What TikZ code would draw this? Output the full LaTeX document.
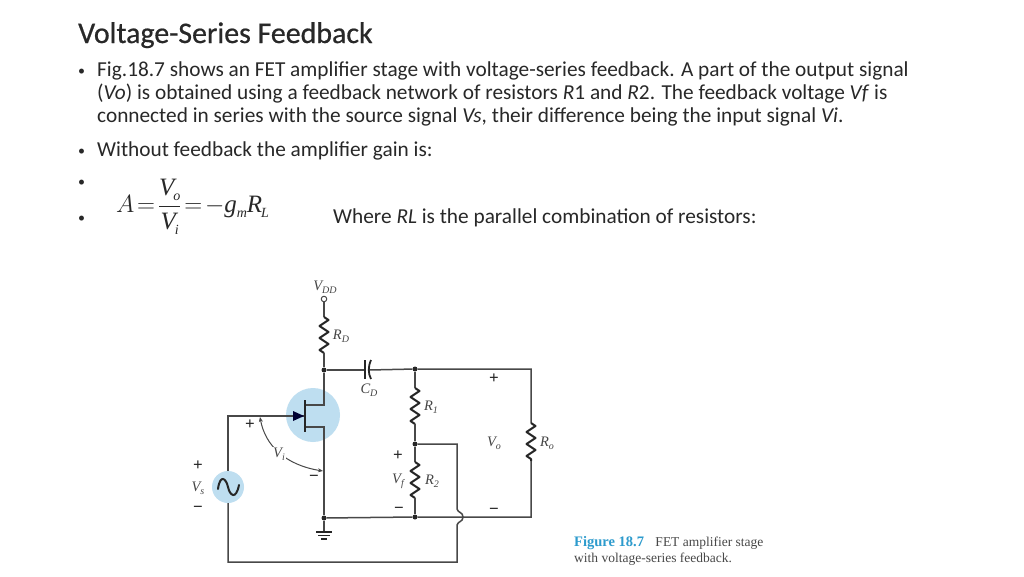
\documentclass[tikz,border=0pt]{standalone}
\usepackage{fontspec}
\usetikzlibrary{decorations.pathmorphing,arrows.meta}
\setmainfont{Carlito}
\newfontfamily\titlef[FakeBold=0.6]{Carlito}
\newfontfamily\timesf{Liberation Serif}
\definecolor{ink}{RGB}{40,40,40}
\definecolor{wire}{RGB}{72,72,72}
\definecolor{halo}{RGB}{190,222,240}
\definecolor{figblue}{RGB}{45,155,205}
\definecolor{labelc}{RGB}{70,70,70}
\newcommand{\lowsub}[1]{\raisebox{-0.2em}{\fontsize{14}{14}\selectfont #1}}
\newcommand{\csub}[1]{\raisebox{-0.22em}{\fontsize{10}{10}\selectfont #1}}
\newcommand{\eqfont}{\timesf\itshape\fontsize{25}{28}\selectfont}
\tikzset{
  body/.style={anchor=base west,inner sep=0pt,font=\fontsize{21.3}{24}\selectfont,text=ink},
  bulletmark/.style={anchor=base west,inner sep=0pt,font=\fontsize{14}{16}\selectfont,text=ink},
  wireline/.style={draw=wire,line width=1.5pt},
  resistorline/.style={draw=black!85,line width=2pt,line join=round,decorate,decoration={zigzag,amplitude=4.5pt,segment length=12pt}},
  dotnode/.style={circle,fill=black!85,inner sep=0pt,minimum size=5pt},
  clabel/.style={inner sep=0pt,text=labelc,font=\timesf\itshape\fontsize{14.5}{14.5}\selectfont},
  csign/.style={inner sep=0pt,text=black!85,font=\timesf\bfseries\fontsize{17}{17}\selectfont},
  haloc/.style={circle,fill=halo,draw=none,inner sep=0pt},
}
\begin{document}
\begin{tikzpicture}[x=1pt,y=-1pt]
\useasboundingbox[fill=white] (0,0) rectangle (1024,576);
% text
\node[anchor=base west,inner sep=0pt,text=ink,font=\titlef\fontsize{29.9}{32}\selectfont] (title) at (78,43) {Voltage-Series Feedback};
\node[bulletmark] (b1) at (78,75) {•};
\node[body] (l1) at (97,76) {Fig.18.7 shows an FET amplifier stage with voltage-series feedback. A part of the output signal};
\node[body] (l2) at (97,99) {(\textit{Vo}) is obtained using a feedback network of resistors \textit{R}1 and \textit{R}2. The feedback voltage \textit{Vf} is};
\node[body] (l3) at (97,122) {connected in series with the source signal \textit{Vs}, their difference being the input signal \textit{Vi}.};
\node[bulletmark] (b2) at (78,155) {•};
\node[body] (l4) at (97,156) {Without feedback the amplifier gain is:};
\node[bulletmark] (b3) at (78,186) {•};
\node[bulletmark] (b4) at (78,222) {•};
\node[body] (l5) at (333,223) {Where \textit{RL} is the parallel combination of resistors:};
\node[anchor=west,inner sep=0pt,text=ink,font=\eqfont] (eq) at (116,207)
 {$\displaystyle A\!=\!\frac{\hbox{\eqfont V\kern-1pt\lowsub{o}}}{\hbox{\eqfont V\kern-1pt\lowsub{i}}}\!=\!-\hbox{\eqfont g\lowsub{m}R\kern-1pt\lowsub{L}}$};
% halos
\node[haloc,minimum size=54pt] (fet) at (313,415) {};
\node[haloc,minimum size=32pt] (src) at (228,487) {};
% junctions and terminals
\node[circle,draw=wire,line width=1pt,fill=white,inner sep=0pt,minimum size=5.5pt] (vdd) at (324,299) {};
\coordinate (rdt) at (324,317);
\coordinate (rdb) at (324,353);
\node[dotnode] (nd) at (324,370) {};
\node[dotnode] (n1) at (415,369) {};
\node[dotnode] (n2) at (415,444) {};
\node[dotnode] (n3) at (415,517) {};
\node[dotnode] (ns) at (324,518) {};
\coordinate (capl) at (365,370);
\coordinate (capr) at (369,370);
\coordinate (tr) at (531,369);
\coordinate (br) at (531,517);
\coordinate (rot) at (531,423);
\coordinate (rob) at (531,461);
\coordinate (r1t) at (415,388);
\coordinate (r1b) at (415,424);
\coordinate (r2t) at (415,462);
\coordinate (r2b) at (415,498);
\coordinate (fb1) at (457,444);
\coordinate (fb2) at (457,509);
\coordinate (fb3) at (457,525);
\coordinate (fb4) at (457,562);
\coordinate (fb5) at (228,562);
\coordinate (gnd) at (324,531);
\coordinate (dt) at (324,405);
\coordinate (dg) at (305,405);
\coordinate (st) at (324,427);
\coordinate (sg) at (305,427);
\coordinate (gt) at (305,416);
\coordinate (gl) at (228,416);
% wires
\draw[wireline] (vdd) -- (rdt);
\draw[resistorline] (rdt) -- (rdb);
\draw[wireline] (rdb) -- (nd) -- (dt) -- (dg);
\draw[wireline] (nd) -- (capl);
\draw[wireline] (capr) -- (n1) -- (tr) -- (rot);
\draw[resistorline] (rot) -- (rob);
\draw[wireline] (rob) -- (br) -- (n3) -- (ns);
\draw[wireline] (n1) -- (r1t);
\draw[resistorline] (r1t) -- (r1b);
\draw[wireline] (r1b) -- (n2) -- (r2t);
\draw[resistorline] (r2t) -- (r2b);
\draw[wireline] (r2b) -- (n3);
\draw[wireline] (n2) -- (fb1) -- (fb2) .. controls (458,513) and (463,512) .. (463,517) .. controls (463,522) and (458,521) .. (fb3) -- (fb4) -- (fb5) -- (src);
\draw[wireline] (src) -- (gl) -- (gt);
\draw[wireline] (sg) -- (st) -- (ns) -- (gnd);
% capacitor
\draw[draw=black!85,line width=1.8pt] (365,360) -- (365,379);
\draw[draw=black!85,line width=1.8pt] (371,360) .. controls (368,367) and (368,373) .. (371,379);
% FET
\draw[draw=black!85,line width=2.8pt] (305,400) -- (305,432);
\fill[fill=black!80!blue] (304,416) -- (293,411) -- (293,421) -- cycle;
% source sine
\draw[draw=black!85,line width=2pt,line cap=round] (218,489) .. controls (220,474) and (226,478) .. (228,487) .. controls (230,496) and (236,500) .. (239,485);
% ground
\draw[draw=black!85,line width=1.8pt] (316,532) -- (332,532);
\draw[draw=black!85,line width=1.8pt] (318,535.5) -- (330,535.5);
\draw[draw=black!85,line width=1.8pt] (321,539) -- (327,539);
% Vi arrow
\draw[draw=wire,line width=1pt,{Stealth[length=5pt,width=4pt]}-{Stealth[length=5pt,width=4pt]}] (260,417) .. controls (265,445) and (285,465) .. (323,471);
% labels
\node[clabel,fill=white,inner sep=1pt] (lvi) at (279,454) {V\csub{i}};
\node[clabel] (lvdd) at (325,287) {V\csub{DD}};
\node[clabel] (lrd) at (341,336) {R\csub{D}};
\node[clabel] (lcd) at (369,390) {C\csub{D}};
\node[clabel] (lr1) at (431,407) {R\csub{1}};
\node[clabel] (lr2) at (432,481) {R\csub{2}};
\node[clabel] (lro) at (547,443) {R\csub{o}};
\node[clabel] (lvo) at (494,443) {V\csub{o}};
\node[clabel] (lvf) at (398,481) {V\csub{f}};
\node[clabel] (lvs) at (198,488) {V\csub{s}};
\node[csign] (p1) at (250,425) {+};
\node[csign] (m1) at (314,478) {−};
\node[csign] (p2) at (198,466) {+};
\node[csign] (m2) at (198,509) {−};
\node[csign] (p3) at (398,456) {+};
\node[csign] (m3) at (399,510) {−};
\node[csign] (p4) at (494,379) {+};
\node[csign] (m4) at (494,511) {−};
% caption
\node[anchor=base west,inner sep=0pt,text=ink!85,font=\timesf\fontsize{13.5}{14}\selectfont] (cap1) at (574,546) {\textcolor{figblue}{\fontsize{14.5}{14}\selectfont\textbf{Figure 18.7}}\hspace{0.85em}FET amplifier stage};
\node[anchor=base west,inner sep=0pt,text=ink!85,font=\timesf\fontsize{13.5}{14}\selectfont] (cap2) at (574,562) {with voltage-series feedback.};
\end{tikzpicture}
\end{document}
